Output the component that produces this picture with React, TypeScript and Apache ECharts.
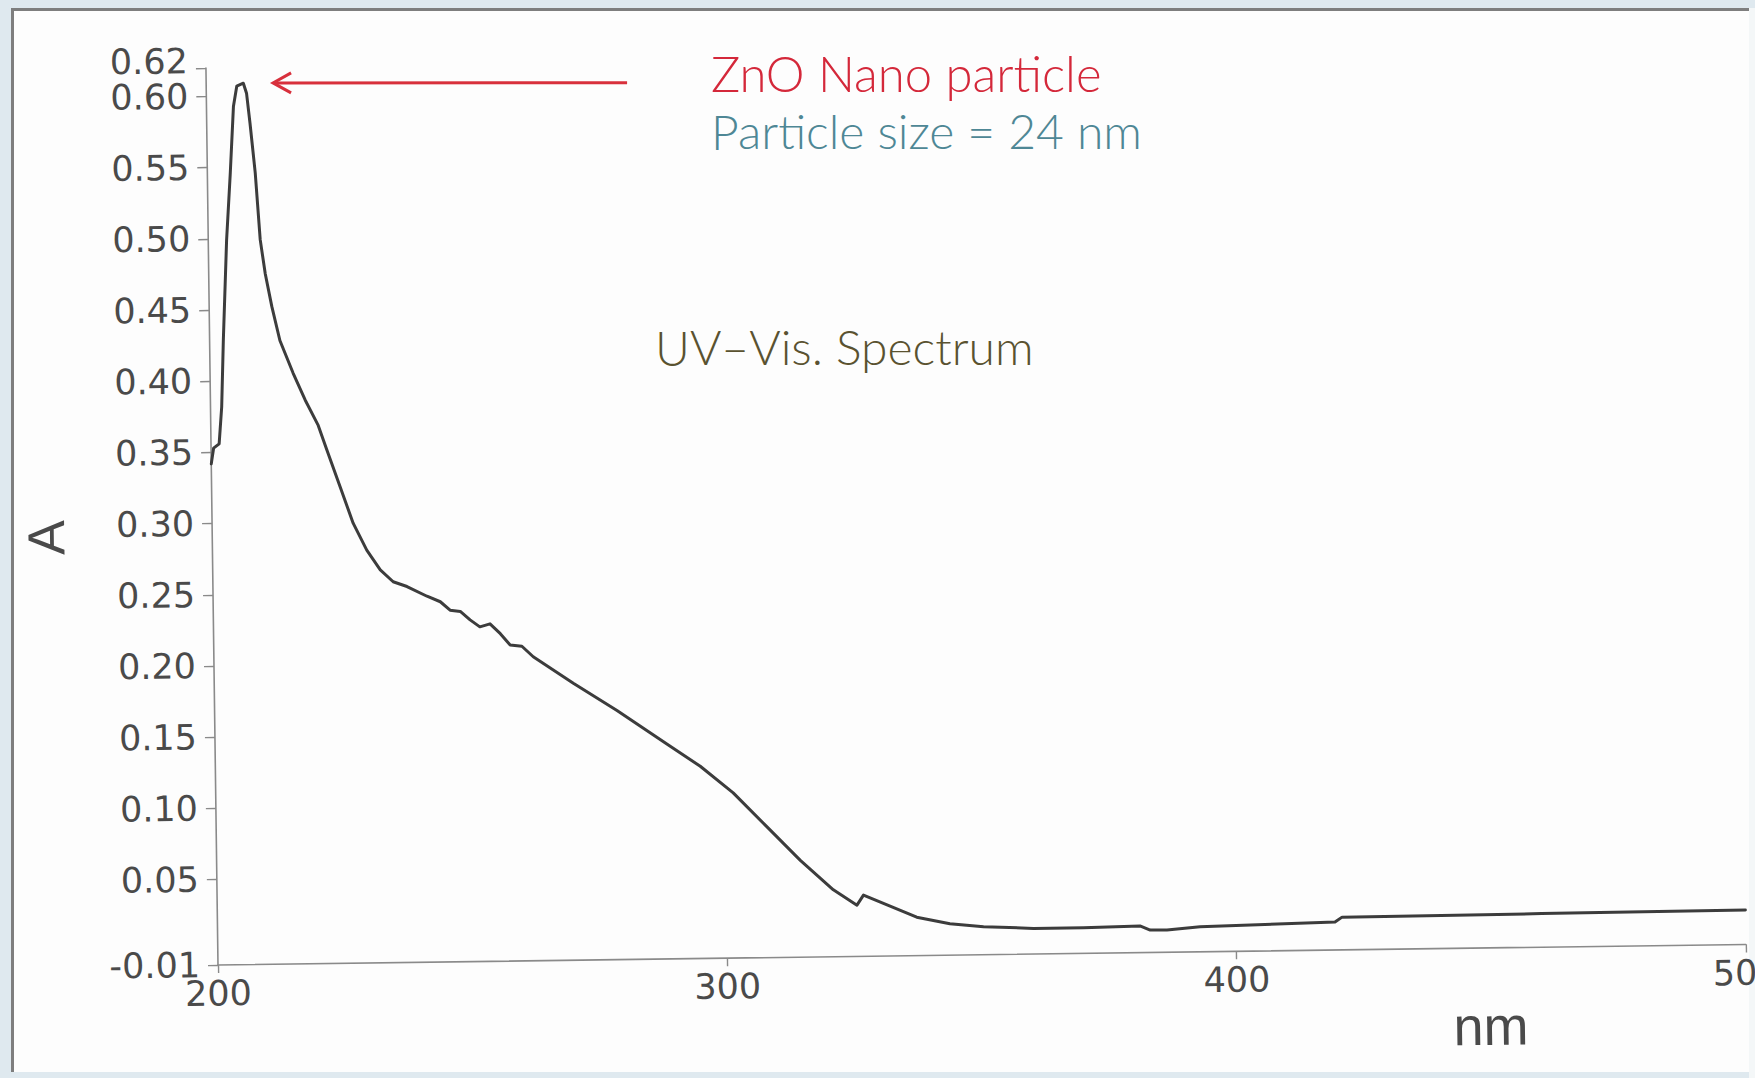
import React, { useEffect, useRef } from "react";
import * as echarts from "echarts";

// Wavelength (nm) and absorbance
const wavelengths = [
  200, 200.5, 201.6, 202.2, 202.7, 203.6, 204.5, 205.3, 206.0, 207.3, 207.9, 208.5,
  209.4, 210.2, 211.1, 212.3, 213.8, 216.3, 218.6, 221.1, 222.7, 225.2, 227.7, 230.3,
  232.9, 235.4, 238.1, 242.0, 244.6, 246.5, 248.5, 250.4, 252.3, 254.3, 256.3, 258.2,
  260.5, 262.7, 270.5, 279.0, 288.7, 295.2, 301.6, 308.1, 314.6, 321.0, 325.6, 326.9,
  330.8, 337.3, 343.8, 350.4, 360.2, 370.0, 381.1, 383.1, 386.4, 392.9, 419.4, 420.8,
  460, 500,
];
const absorbance = [
  0.342, 0.353, 0.356, 0.382, 0.429, 0.499, 0.546, 0.593, 0.607, 0.609, 0.602, 0.581,
  0.546, 0.499, 0.475, 0.452, 0.428, 0.405, 0.386, 0.368, 0.351, 0.325, 0.299, 0.28,
  0.266, 0.2575, 0.254, 0.247, 0.243, 0.237, 0.236, 0.23, 0.225, 0.227, 0.22, 0.212,
  0.211, 0.2035, 0.1845, 0.165, 0.141, 0.125, 0.106, 0.082, 0.058, 0.037, 0.026, 0.033,
  0.027, 0.017, 0.012, 0.0097, 0.008, 0.008, 0.0087, 0.0057, 0.0056, 0.0076, 0.0096, 0.013,
  0.0136, 0.0142,
];
const yTickValues = [-0.01, 0.05, 0.1, 0.15, 0.2, 0.25, 0.3, 0.35, 0.4, 0.45, 0.5, 0.55, 0.6];
const yTopTick = [0.62];
const xRange = [200, 500];
const yRange = [-0.01, 0.62];

const titleLines = ["ZnO Nano particle", "Particle size = 24 nm"];
const spectrumLabel = "UV\u2013Vis. Spectrum";

const W = 1755;
const H = 1078;
const ORIGIN_X = 218;
const ORIGIN_Y = 965;
const TILT_DEG = 0.77;

export default function App() {
  const ref = useRef<HTMLDivElement>(null);

  useEffect(() => {
    if (!ref.current) return;
    const chart = echarts.init(ref.current, null, { renderer: "svg" });
    const theta = (TILT_DEG * Math.PI) / 180;
    const axisColor = "#8a8a8a";
    const labelColor = "#4a4a4a";
    const data = wavelengths.map((w, i) => [w, absorbance[i]]);

    const yLabelBase = {
      margin: 18,
      fontFamily: "DejaVu Sans",
      fontSize: 35,
      color: labelColor,
      showMinLabel: true,
      showMaxLabel: true,
      hideOverlap: false,
      formatter: (v: number) => v.toFixed(2),
    };

    chart.setOption({
      animation: false,
      backgroundColor: "transparent",
      grid: {
        left: ORIGIN_X,
        top: 68,
        right: W - 1746,
        bottom: H - ORIGIN_Y,
        containLabel: false,
        outerBoundsMode: "none",
      },
      xAxis: {
        type: "value",
        min: xRange[0],
        max: xRange[1],
        interval: 100,
        name: "nm",
        nameLocation: "middle",
        nameGap: 30,
        nameTextStyle: {
          fontFamily: "Liberation Sans",
          fontSize: 54,
          color: labelColor,
          padding: [0, 0, 0, 1016],
        },
        axisLine: { show: true, onZero: false, lineStyle: { color: axisColor, width: 1.6 } },
        axisTick: { show: true, length: 8, lineStyle: { color: axisColor, width: 1.4 } },
        axisLabel: {
          margin: 11,
          fontFamily: "DejaVu Sans",
          fontSize: 35,
          color: labelColor,
          showMinLabel: true,
          showMaxLabel: true,
          formatter: (v: number) => String(v),
        },
        splitLine: { show: false },
      },
      yAxis: [
        {
          type: "value",
          min: yRange[0],
          max: yRange[1],
          name: "A",
          nameLocation: "middle",
          nameGap: 140,
          nameRotate: 90,
          nameTextStyle: {
            fontFamily: "Liberation Sans",
            fontSize: 52,
            color: labelColor,
            padding: [0, 38, 0, 0],
          },
          axisLine: { show: true, onZero: false, lineStyle: { color: axisColor, width: 1.6 } },
          axisTick: {
            show: true,
            length: 10,
            customValues: yTickValues,
            lineStyle: { color: axisColor, width: 1.4 },
          },
          axisLabel: { ...yLabelBase, customValues: yTickValues },
          splitLine: { show: false },
        },
        {
          type: "value",
          min: yRange[0],
          max: yRange[1],
          position: "left",
          offset: 0,
          axisLine: { show: false, onZero: false },
          axisTick: {
            show: true,
            length: 10,
            customValues: yTopTick,
            lineStyle: { color: axisColor, width: 1.4 },
          },
          axisLabel: {
            ...yLabelBase,
            customValues: yTopTick,
            verticalAlign: "bottom",
            lineHeight: 14,
          },
          splitLine: { show: false },
        },
      ],
      series: [
        {
          type: "line",
          data,
          yAxisIndex: 0,
          showSymbol: false,
          symbol: "none",
          smooth: false,
          lineStyle: { color: "#3c3c3c", width: 3, join: "round", cap: "round" },
          z: 3,
        },
      ],
      graphic: [
        {
          type: "group",
          x: 0,
          y: 0,
          originX: ORIGIN_X,
          originY: ORIGIN_Y,
          rotation: -theta,
          children: [
            {
              type: "line",
              shape: { x1: 276, y1: 83, x2: 627, y2: 83 },
              style: { stroke: "#d8303c", lineWidth: 3 },
            },
            {
              type: "polyline",
              shape: { points: [[291, 73], [273, 83], [291, 93]] },
              style: { stroke: "#d8303c", lineWidth: 3, fill: null },
            },
            {
              type: "text",
              x: 711,
              y: 73,
              style: {
                text: titleLines[0],
                fontFamily: "Lato",
                fontWeight: 300,
                fontSize: 49,
                fill: "#d4283a",
                textAlign: "left",
                textVerticalAlign: "middle",
                verticalAlign: "middle",
              },
            },
            {
              type: "text",
              x: 711,
              y: 131,
              style: {
                text: titleLines[1],
                fontFamily: "Lato",
                fontWeight: 300,
                fontSize: 48,
                fill: "#4e8795",
                textAlign: "left",
                textVerticalAlign: "middle",
                verticalAlign: "middle",
              },
            },
            {
              type: "text",
              x: 655,
              y: 347,
              style: {
                text: spectrumLabel,
                fontFamily: "Lato",
                fontWeight: 300,
                fontSize: 48,
                fill: "#5a5230",
                textAlign: "left",
                textVerticalAlign: "middle",
                verticalAlign: "middle",
              },
            },
          ],
        },
      ],
    });

    return () => {
      chart.dispose();
    };
  }, []);

  return (
    <div
      style={{
        position: "fixed",
        left: 0,
        top: 0,
        width: W,
        height: H,
        overflow: "hidden",
        background: "#dfe9ef",
      }}
    >
      <div
        style={{
          position: "absolute",
          left: 11,
          top: 8,
          width: W - 11 - 6,
          height: H - 8 - 6,
          boxSizing: "border-box",
          background: "#fdfdfd",
          borderTop: "3px solid #7e7e7e",
          borderLeft: "3px solid #7e7e7e",
        }}
      />
      <div
        style={{
          position: "absolute",
          left: W - 6,
          top: 8,
          width: 6,
          height: H - 8,
          background: "#f4f7f8",
        }}
      />
      <div
        ref={ref}
        style={{
          position: "absolute",
          left: 0,
          top: 0,
          width: W,
          height: H,
          transform: `rotate(-${TILT_DEG}deg)`,
          transformOrigin: `${ORIGIN_X}px ${ORIGIN_Y}px`,
        }}
      />
    </div>
  );
}
